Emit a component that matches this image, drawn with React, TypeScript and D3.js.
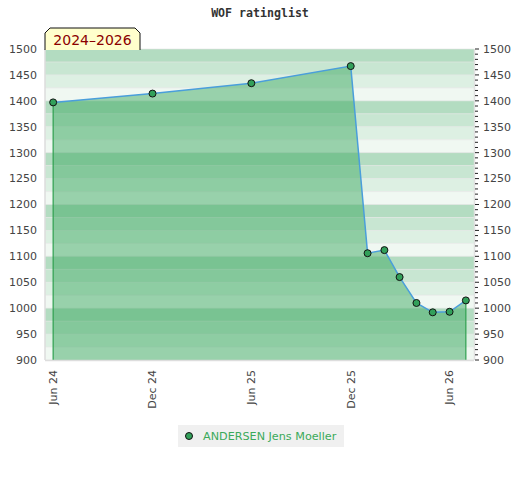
import React from "react";
import * as d3 from "d3";

const title = "WOF ratinglist";
const periodLabel = "2024–2026";
const playerName = "ANDERSEN Jens Moeller";
const dates = [
  "2024-06-01", "2024-12-01", "2025-06-01", "2025-12-01", "2026-01-01", "2026-02-01",
  "2026-03-01", "2026-04-01", "2026-05-01", "2026-06-01", "2026-07-01",
];
const ratings = [1397, 1414, 1434, 1467, 1106, 1112, 1060, 1010, 992, 993, 1015];
const xTickDates = ["2024-06-01", "2024-12-01", "2025-06-01", "2025-12-01", "2026-06-01"];
const yTicks = [900, 950, 1000, 1050, 1100, 1150, 1200, 1250, 1300, 1350, 1400, 1450, 1500];
const bandColors = ["#b3dcc1", "#c8e6d2", "#ddf0e3", "#f0f8f2"];

const W = 520, H = 480;
const L = 45, R = 474, T = 49, B = 360;

export default function App() {
  const parse = d3.utcParse("%Y-%m-%d");
  const x = d3.scaleUtc()
    .domain([parse("2024-05-17")!, parse("2026-07-16")!])
    .range([L, R]);
  const y = d3.scaleLinear().domain([900, 1500]).range([B, T]);
  const data = dates.map((d, i) => ({ d: parse(d)!, v: ratings[i] }));
  const line = d3.line<{ d: Date; v: number }>().x(p => x(p.d)).y(p => y(p.v));
  const area = d3.area<{ d: Date; v: number }>().x(p => x(p.d)).y0(B).y1(p => y(p.v));
  const fmt = d3.utcFormat("%b %y");

  const bands: { y0: number; y1: number; c: string }[] = [];
  for (let v = 1500; v > 900; v -= 25) {
    const idx = ((1500 - v) / 25) % 4;
    bands.push({ y0: y(v), y1: y(v - 25), c: bandColors[idx] });
  }
  const minor = d3.range(900, 1501, 10);
  const first = data[0], last = data[data.length - 1];

  return (
    <svg width={W} height={H} style={{ position: "absolute", left: 0, top: 0 }}>
      <text x={260} y={17} textAnchor="middle" fontFamily="DejaVu Sans Mono" fontWeight="bold" fontSize={11.6} fill="#333">{title}</text>
      {bands.map((b, i) => (
        <rect key={i} x={L} y={b.y0} width={R - L} height={b.y1 - b.y0} fill={b.c} />
      ))}
      {d3.range(900, 1501, 25).map(v => (
        <line key={v} x1={L} x2={R} y1={y(v)} y2={y(v)} stroke="#e4e4e4" strokeOpacity={0.6} strokeWidth={1} />
      ))}
      <path d={area(data)!} fill="#40aa64" fillOpacity={0.5} />
      <line x1={x(first.d)} x2={x(first.d)} y1={y(first.v)} y2={B} stroke="#2ea04f" strokeWidth={1.2} />
      <line x1={x(last.d)} x2={x(last.d)} y1={y(last.v)} y2={B} stroke="#2ea04f" strokeWidth={1.2} />
      <path d={line(data)!} fill="none" stroke="#4a9edb" strokeWidth={1.5} />
      {data.map((p, i) => (
        <circle key={i} cx={x(p.d)} cy={y(p.v)} r={3.5} fill="#32a05a" stroke="#111" strokeWidth={1} />
      ))}
      <line x1={L} x2={L} y1={T} y2={B} stroke="#dddddd" strokeWidth={1.5} />
      <line x1={L} x2={R} y1={B + 0.5} y2={B + 0.5} stroke="#dddddd" strokeWidth={1.5} />
      <line x1={R + 0.5} x2={R + 0.5} y1={T} y2={B} stroke="#e0e0e0" strokeWidth={1.5} />
      {minor.map(v => (
        <line key={v} x1={R + 1} x2={R + (v % 50 === 0 ? 5 : 4)} y1={y(v)} y2={y(v)} stroke="#222" strokeWidth={1} />
      ))}
      {yTicks.map(v => (
        <g key={v} fontFamily="DejaVu Sans" fontSize={11} fill="#444">
          <text x={37} y={y(v)} dy="0.35em" textAnchor="end">{v}</text>
          <text x={483} y={y(v)} dy="0.35em" textAnchor="start">{v}</text>
        </g>
      ))}
      {xTickDates.map(s => {
        const d = parse(s)!;
        return (
          <text key={s} transform={`translate(${x(d)},370) rotate(-90)`} dy="0.35em" textAnchor="end"
            fontFamily="DejaVu Sans" fontSize={11} fill="#444">{fmt(d)}</text>
        );
      })}
      <path d={`M${L},${T + 1} L${L},33 L${L + 5},28 L135,28 L140,33 L140,${T + 1}`} fill="#ffffcc" stroke="#111" strokeWidth={1} />
      <text x={92.5} y={45} textAnchor="middle" fontFamily="DejaVu Sans" fontSize={14} fill="#8b0000">{periodLabel}</text>
      <rect x={178} y={425} width={166} height={22} fill="#f0f0f0" />
      <circle cx={189} cy={436} r={3.5} fill="#32a05a" stroke="#111" strokeWidth={1} />
      <text x={203} y={436} dy="0.35em" fontFamily="DejaVu Sans" fontSize={11.2} fill="#3aaa5a">{playerName}</text>
    </svg>
  );
}
